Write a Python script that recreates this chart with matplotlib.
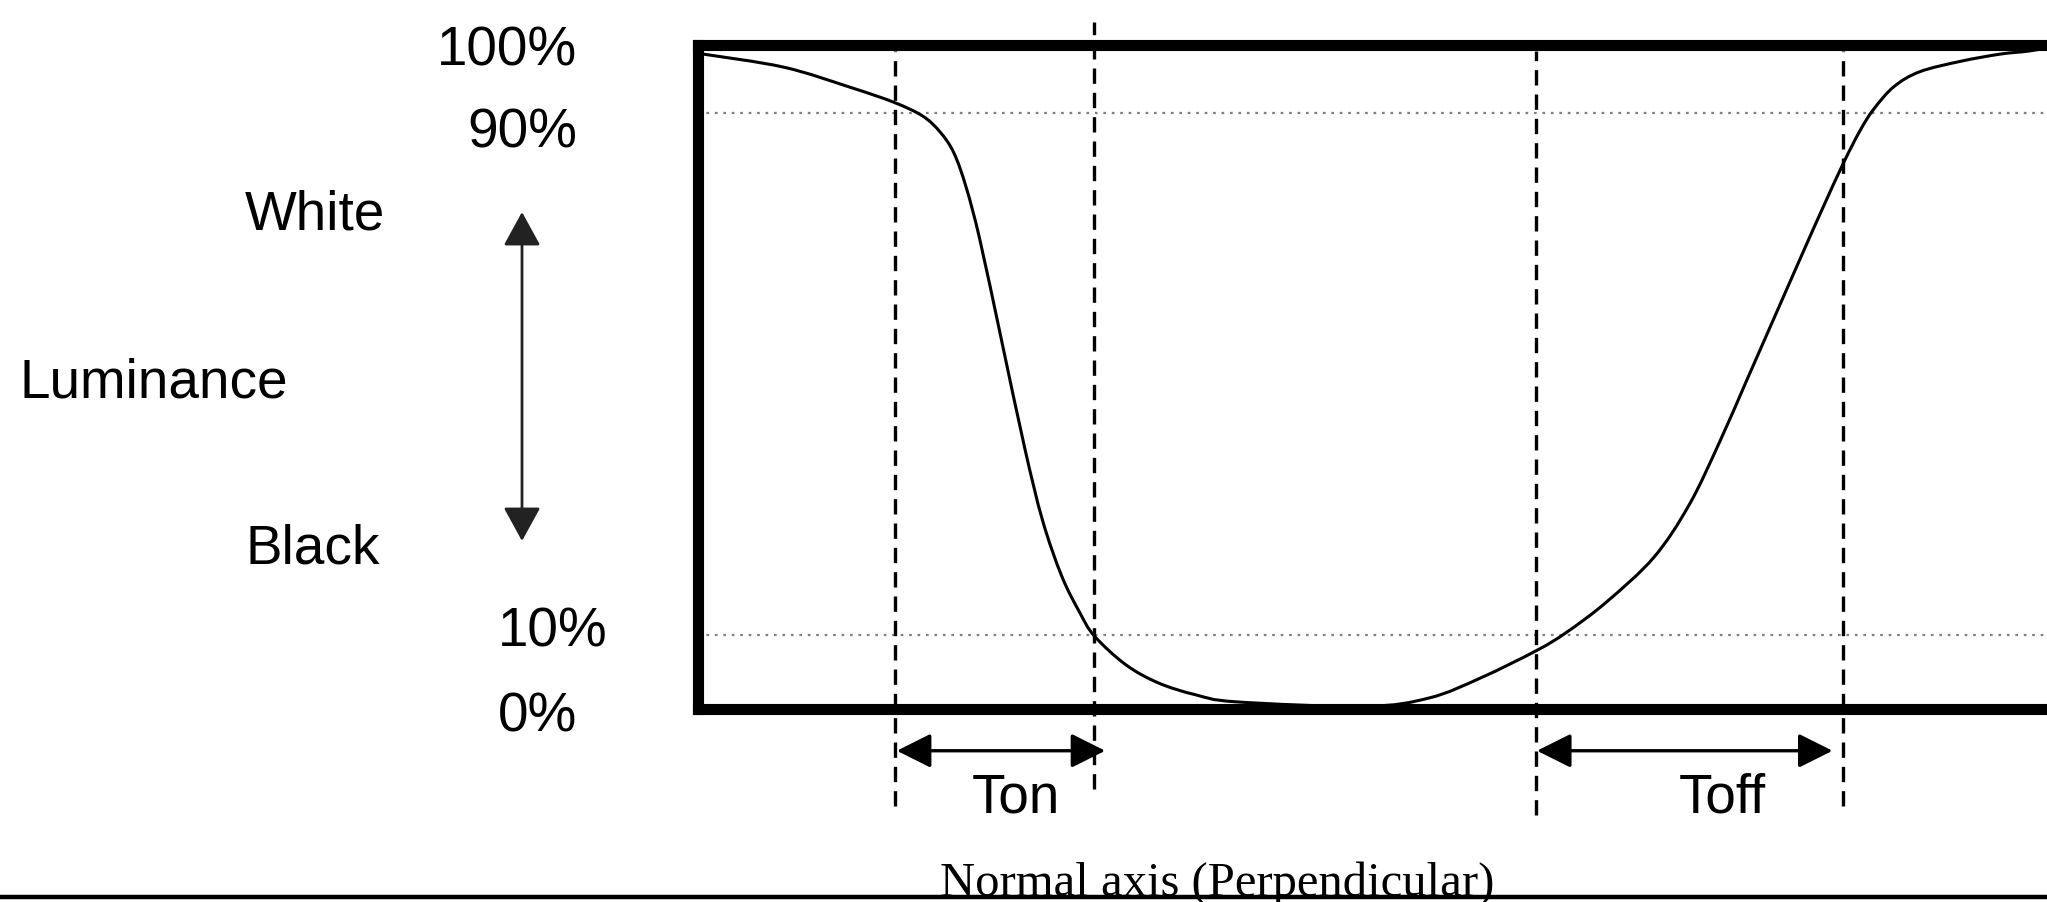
import matplotlib
matplotlib.use('Agg')
import matplotlib.pyplot as plt
import numpy as np
from matplotlib.lines import Line2D
from matplotlib.patches import FancyArrowPatch, PathPatch
from matplotlib.path import Path

# luminance curve, x in % of the box width, y in % luminance
pos = [0.4, 6.3, 11.2, 14.4, 16.5, 17.8, 18.8, 19.7, 20.7, 22.3, 24.0, 25.3,
       26.7, 28.0, 29.1, 31.4, 33.8, 36.5, 39.5, 49.0, 53.7, 57.5,
       61.6, 63.8, 66.7, 70.2, 72.8, 75.0, 77.0, 79.0, 81.0, 82.6, 84.1,
       85.3, 86.3, 87.8, 89.7, 92.7, 95.6, 97.8, 100.0]
lum = [99.0, 97.0, 93.9, 91.6, 89.5, 87.0, 83.8, 78.5, 70.5, 55.0, 38.5, 27.5,
       19.0, 13.5, 9.8, 5.4, 2.6, 0.8, -0.3, -1.0, 0.3, 3.4,
       7.6, 10.4, 15.0, 21.9, 30.0, 39.5, 49.0, 58.5, 68.0, 75.5, 82.3,
       87.2, 90.5, 94.0, 96.3, 97.9, 99.0, 99.5, 100.3]

levels = [90, 10]
marks = [14.5, 29.1, 61.5, 84.1]          # ton start / end, toff start / end
mark_top = [99.5, 103.9, 99.5, 99.5]
mark_bottom = [-16.2, -13.6, -17.6, -16.2]
ton = (14.6, 29.9)
toff = (61.6, 83.3)
arrow_y = -7.8


def smooth_path(xs, ys):
  # catmull-rom through the points, drawn as cubic bezier segments
  p = np.column_stack([xs, ys]).astype(float)
  p = np.vstack([p[0], p, p[-1]])
  verts = [p[1]]
  codes = [Path.MOVETO]
  for i in range(1, len(p) - 2):
    c1 = p[i] + (p[i + 1] - p[i - 1]) / 6
    c2 = p[i + 1] - (p[i + 2] - p[i]) / 6
    verts += [c1, c2, p[i + 1]]
    codes += [Path.CURVE4] * 3
  return Path(verts, codes)


W, H = 2047, 903
fig = plt.figure(figsize=(W / 100, H / 100), dpi=100)
ax = fig.add_axes([698 / W, (H - 710) / H, (2060 - 698) / W, 664 / H])
ax.set_xlim(0, 100)
ax.set_ylim(-1.4, 100.4)
ax.set_xticks([])
ax.set_yticks([])
for s in ax.spines.values():
  s.set_linewidth(8)
  s.set_color('black')

for lv in levels:
  ax.plot([0, 100], [lv, lv], color='#808080', lw=1.6,
          linestyle=(0, (1.2, 2.6)), zorder=1)

for x, t, b in zip(marks, mark_top, mark_bottom):
  ax.plot([x, x], [b, t], color='black', lw=2.4, linestyle=(0, (4.6, 2.7)),
          clip_on=False, zorder=2)

ax.add_patch(PathPatch(smooth_path(pos, lum), facecolor='none',
                       edgecolor='black', lw=2.2, zorder=3))

for a, b in (ton, toff):
  ax.add_patch(FancyArrowPatch((a, arrow_y), (b, arrow_y),
                               arrowstyle='<|-|>,head_length=21,head_width=10.5',
                               mutation_scale=1, shrinkA=0, shrinkB=0,
                               lw=2.4, color='black', clip_on=False))

# luminance arrow on the left, figure pixel positions
fig.add_artist(FancyArrowPatch((522 / W, 1 - 213 / H), (522 / W, 1 - 542 / H),
                               transform=fig.transFigure,
                               arrowstyle='<|-|>,head_length=21,head_width=11.5',
                               mutation_scale=1, shrinkA=0, shrinkB=0,
                               lw=2.0, color='#222222'))

sans = ['Liberation Sans', 'DejaVu Sans']
fs = 39.5


def label(x, y, s, ha='left', size=fs, family=sans):
  fig.text(x / W, 1 - y / H, s, ha=ha, va='baseline', fontsize=size,
           family=family, color='black')


label(577, 65, '100%', ha='right')
label(577, 147, '90%', ha='right')
label(245, 230, 'White')
label(20, 398, 'Luminance')
label(245, 564, 'Black')
label(498, 647, '10%')
label(498, 732, '0%')
label(1016, 813, 'Ton', ha='center')
label(1722, 813, 'Toff', ha='center')

fig.add_artist(Line2D([0, 1], [1 - 898 / H, 1 - 898 / H], color='black',
                      lw=3.2, transform=fig.transFigure))
label(1217, 896, 'Normal axis (Perpendicular)', ha='center', size=35,
      family=['Liberation Serif', 'DejaVu Serif'])

fig.savefig('out.png', dpi=100, facecolor='white')
